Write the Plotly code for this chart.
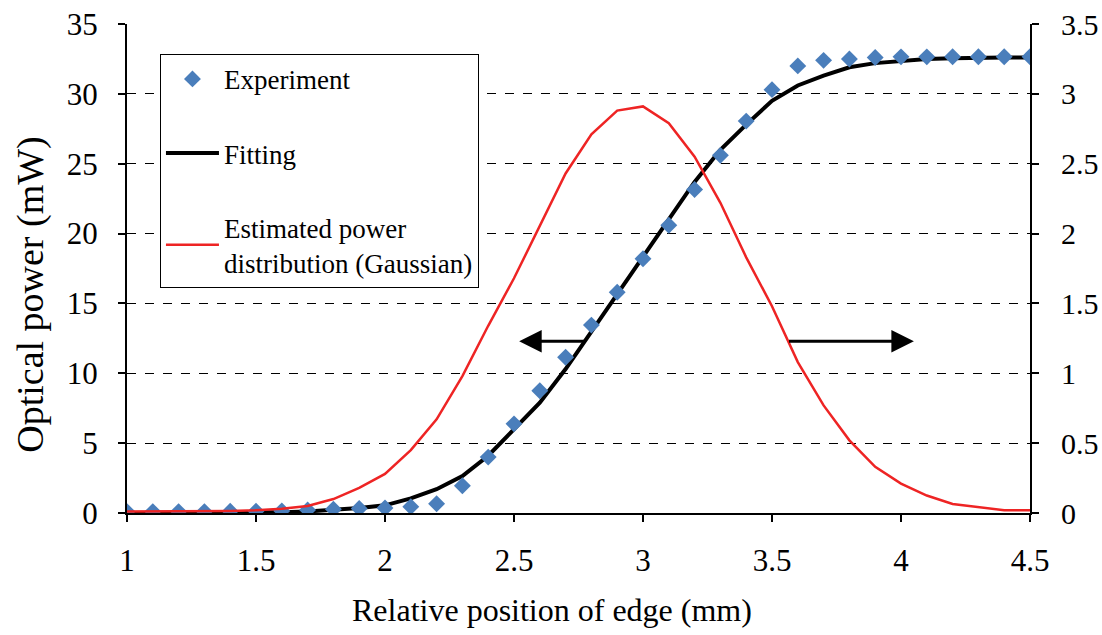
import plotly.graph_objects as go

# Edge position (mm)
position = [1.0, 1.1, 1.2, 1.3, 1.4, 1.5, 1.6, 1.7, 1.8, 1.9,
            2.0, 2.1, 2.2, 2.3, 2.4, 2.5, 2.6, 2.7, 2.8, 2.9,
            3.0, 3.1, 3.2, 3.3, 3.4, 3.5, 3.6, 3.7, 3.8, 3.9,
            4.0, 4.1, 4.2, 4.3, 4.4, 4.5]

# Measured optical power (mW)
experiment = [0.1, 0.1, 0.1, 0.1, 0.12, 0.13, 0.15, 0.22, 0.27, 0.32,
              0.36, 0.45, 0.66, 1.95, 4.0, 6.38, 8.75, 11.15, 13.45, 15.8,
              18.2, 20.6, 23.15, 25.6, 28.05, 30.3, 32.0, 32.4, 32.5, 32.6,
              32.65, 32.65, 32.66, 32.66, 32.66, 32.66]

# Fitted curve (mW)
fitting = [0.0, 0.0, 0.0, 0.01, 0.02, 0.03, 0.06, 0.11, 0.2, 0.35,
           0.55, 1.05, 1.7, 2.65, 4.1, 5.95, 7.9, 10.3, 13.0, 15.7,
           18.3, 21.0, 23.7, 26.0, 27.8, 29.5, 30.6, 31.3, 31.9, 32.2,
           32.38, 32.5, 32.55, 32.6, 32.6, 32.6]

# Estimated Gaussian power distribution (right axis)
gaussian = [0.01, 0.01, 0.01, 0.01, 0.015, 0.02, 0.03, 0.05, 0.1, 0.18,
            0.28, 0.45, 0.67, 0.98, 1.34, 1.68, 2.06, 2.43, 2.71, 2.88,
            2.91, 2.79, 2.55, 2.22, 1.83, 1.48, 1.08, 0.77, 0.52, 0.33,
            0.21, 0.125, 0.065, 0.045, 0.02, 0.02]

x_ticks = [1, 1.5, 2, 2.5, 3, 3.5, 4, 4.5]
x_labels = ["1", "1.5", "2", "2.5", "3", "3.5", "4", "4.5"]
y_ticks = [0, 5, 10, 15, 20, 25, 30, 35]
y2_ticks = [0, 0.5, 1, 1.5, 2, 2.5, 3, 3.5]
y2_labels = ["0", "0.5", "1", "1.5", "2", "2.5", "3", "3.5"]

FONT = "Liberation Serif"

fig = go.Figure()

fig.add_trace(go.Scatter(
    x=position, y=gaussian, mode="lines", yaxis="y2",
    name="Estimated power<br>distribution (Gaussian)",
    line=dict(color="#ee2424", width=2.5),
    legendgroup="c", legendrank=3,
))
fig.add_trace(go.Scatter(
    x=position, y=fitting, mode="lines", name="Fitting",
    line=dict(color="black", width=4),
    legendgroup="b", legendrank=2,
))
fig.add_trace(go.Scatter(
    x=position, y=experiment, mode="markers", name="Experiment",
    marker=dict(symbol="diamond", size=13, color="#4a7ebb"),
    legendgroup="a", legendrank=1,
))

# Direction arrows pointing to the relevant axes
arrow_style = dict(xref="x", yref="y", axref="x", ayref="y", showarrow=True,
                   arrowhead=2, arrowsize=1.5, arrowwidth=3,
                   arrowcolor="black", text="")
fig.add_annotation(x=2.52, y=12.3, ax=2.78, ay=12.3, **arrow_style)
fig.add_annotation(x=4.05, y=12.3, ax=3.56, ay=12.3, **arrow_style)

# Axis titles
fig.add_annotation(text="Relative position of edge (mm)", xref="paper",
                   yref="paper", x=0.471, y=-0.198, xanchor="center",
                   yanchor="middle", showarrow=False,
                   font=dict(family=FONT, size=32))
fig.add_annotation(text="Optical power (mW)", xref="paper", yref="paper",
                   x=-0.107, y=0.447, xanchor="center", yanchor="middle",
                   textangle=-90, showarrow=False,
                   font=dict(family=FONT, size=38))

fig.update_layout(
    width=1102, height=635,
    margin=dict(l=127, r=72, t=24, b=122),
    paper_bgcolor="white", plot_bgcolor="white",
    font=dict(family=FONT, size=30, color="black"),
    showlegend=True,
    legend=dict(
        x=0.0365, y=0.939, xanchor="left", yanchor="top",
        bgcolor="white", bordercolor="black", borderwidth=1,
        font=dict(family=FONT, size=27, color="black"),
        tracegroupgap=36, traceorder="grouped",
        itemwidth=53,
    ),
    xaxis=dict(
        range=[1, 4.5], tickvals=x_ticks, ticktext=x_labels,
        showgrid=False, zeroline=False, automargin=False,
        showline=True, linecolor="black", linewidth=2,
        ticks="outside", ticklen=7, tickcolor="black", tickwidth=1.5,
        ticklabelstandoff=12,
        tickfont=dict(family=FONT, size=31),
    ),
    yaxis=dict(
        range=[0, 35], tickvals=y_ticks, automargin=False,
        showgrid=True, gridcolor="black", gridwidth=1, griddash="dash",
        zeroline=False, showline=True, linecolor="black", linewidth=2,
        ticks="outside", ticklen=7, tickcolor="black", tickwidth=1.5,
        ticklabelstandoff=14,
        tickfont=dict(family=FONT, size=31),
    ),
    yaxis2=dict(
        range=[0, 3.5], tickvals=y2_ticks, ticktext=y2_labels,
        overlaying="y", side="right", showgrid=False, zeroline=False,
        automargin=False,
        showline=True, linecolor="black", linewidth=2,
        ticks="outside", ticklen=7, tickcolor="black", tickwidth=1.5,
        ticklabelstandoff=16,
        tickfont=dict(family=FONT, size=30),
    ),
)

fig.write_html("out.html")
